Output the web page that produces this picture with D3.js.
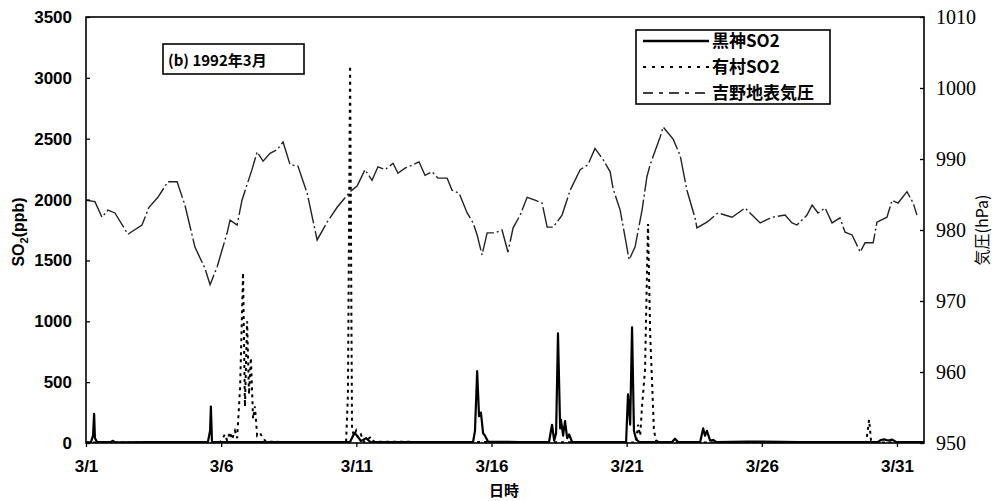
<!DOCTYPE html>
<html>
<head>
<meta charset="utf-8">
<script src="https://cdn.jsdelivr.net/npm/d3@7/dist/d3.min.js"></script>
<style>
  body { margin: 0; background: #fff; }
  svg { display: block; }
</style>
</head>
<body>
<div id="chart"></div>
<script>
// x values are days since 3/1 00:00 (1992)
let dayTicks = [0, 5, 10, 15, 20, 25, 30];
let dayLabels = ["3/1", "3/6", "3/11", "3/16", "3/21", "3/26", "3/31"];
let so2Ticks = [0, 500, 1000, 1500, 2000, 2500, 3000, 3500];
let hpaTicks = [950, 960, 970, 980, 990, 1000, 1010];

let seriesNames = ["黒神SO2", "有村SO2", "吉野地表気圧"];

// 黒神 SO2 (ppb)
let kurokamiDay = [0.00, 0.18, 0.26, 0.30, 0.33, 0.41, 0.92, 1.00, 1.07, 2.37, 4.51, 4.59, 4.62, 4.66, 4.81,
  7.92, 9.77, 9.88, 9.95, 10.06, 10.17, 10.36, 10.51, 12.36, 14.32, 14.39, 14.47, 14.54, 14.61, 14.69, 14.76, 14.87,
  16.06, 17.13, 17.24, 17.32, 17.39, 17.46, 17.54, 17.57, 17.65, 17.72, 17.80, 17.87, 17.98, 19.02,
  19.98, 20.05, 20.13, 20.20, 20.27, 20.35, 20.46, 21.68, 21.79, 21.90, 22.72, 22.83, 22.90, 22.97, 23.09, 23.20, 23.31,
  24.45, 26.42, 29.30, 29.41, 29.52, 29.67, 29.82, 29.97, 31.00];
let kurokamiPpb = [5, 5, 60, 240, 40, 8, 8, 18, 6, 8, 8, 100, 300, 10, 8,
  8, 10, 60, 80, 50, 15, 40, 10, 8, 10, 100, 590, 220, 250, 80, 60, 12,
  8, 10, 150, 20, 80, 900, 120, 190, 60, 180, 40, 70, 10, 8,
  10, 400, 150, 950, 100, 30, 10, 8, 35, 8, 8, 120, 60, 100, 20, 25, 8,
  12, 8, 8, 25, 30, 20, 28, 8, 8];

// 有村 SO2 (ppb)
let arimuraDay = [0.00, 4.96, 5.14, 5.22, 5.33, 5.40, 5.51, 5.59, 5.70, 5.81, 5.88, 5.96, 6.03, 6.10, 6.18, 6.25,
  6.33, 6.44, 6.55, 6.66, 9.62, 9.69, 9.77, 9.84, 9.91, 9.99, 10.06, 10.17, 10.28, 10.54, 10.66,
  20.35, 20.42, 20.50, 20.57, 20.68, 20.79, 20.87, 20.94, 21.01, 21.09, 21.24, 28.86, 28.97, 29.04, 29.19, 31.00];
let arimuraPpb = [5, 5, 70, 20, 90, 30, 100, 40, 450, 1400, 300, 1000, 400, 700, 200, 300,
  60, 80, 40, 10, 5, 400, 3100, 120, 60, 100, 40, 70, 10, 50, 10,
  5, 150, 60, 300, 600, 1800, 900, 500, 100, 20, 5, 5, 190, 20, 5, 5];

// 吉野 surface pressure (hPa)
let yoshinoDay = [0.00, 0.33, 0.59, 0.81, 1.07, 1.55, 2.07, 2.33, 2.66, 3.03, 3.37, 3.66, 4.03, 4.40, 4.59, 4.85,
  5.22, 5.33, 5.59, 5.77, 6.14, 6.33, 6.55, 6.81, 7.07, 7.29, 7.55, 7.84, 8.18, 8.55, 8.92, 9.29, 9.77,
  10.03, 10.32, 10.58, 10.80, 11.06, 11.36, 11.54, 11.80, 12.10, 12.32, 12.54, 12.80, 13.02, 13.36, 13.54,
  13.80, 14.10, 14.32, 14.47, 14.65, 14.84, 15.13, 15.39, 15.61, 15.80, 16.06, 16.32, 16.61, 16.87, 17.06,
  17.28, 17.61, 17.91, 18.28, 18.57, 18.83, 19.13, 19.39, 19.50, 19.76, 19.98, 20.09, 20.31, 20.57, 20.75,
  20.87, 21.24, 21.35, 21.72, 21.98, 22.23, 22.53, 22.60, 22.97, 23.38, 23.90, 24.38, 24.64, 24.94, 25.38,
  25.86, 26.12, 26.30, 26.67, 26.86, 27.08, 27.34, 27.60, 27.89, 28.08, 28.34, 28.64, 28.82, 29.12, 29.26,
  29.63, 29.82, 30.04, 30.37, 30.60, 30.74];
let yoshinoHpa = [984.2, 984.0, 981.8, 982.8, 982.4, 979.4, 980.7, 983.2, 984.6, 986.8, 986.8, 983.5, 977.6, 974.6, 972.3, 974.8,
  979.6, 981.4, 980.7, 984.2, 988.5, 991.0, 989.7, 990.8, 991.3, 992.4, 989.2, 989.0, 985.2, 978.6, 981.1, 983.2, 985.4,
  986.2, 988.5, 987.0, 988.9, 988.5, 989.4, 988.0, 988.7, 989.2, 989.6, 987.7, 988.2, 987.3, 987.3, 985.6,
  985.2, 982.4, 981.0, 979.3, 976.5, 979.6, 979.6, 980.0, 976.9, 980.3, 982.1, 984.6, 984.2, 983.8, 980.4,
  980.4, 982.1, 985.6, 988.5, 989.2, 991.5, 989.9, 988.2, 985.8, 982.8, 978.2, 975.8, 977.6, 982.8, 987.5,
  989.2, 993.1, 994.5, 992.8, 990.5, 985.6, 981.7, 980.3, 981.1, 982.4, 981.8, 983.1, 982.1, 981.0, 981.8,
  982.1, 981.0, 980.7, 982.1, 983.5, 982.4, 983.1, 981.0, 981.7, 979.7, 979.3, 976.9, 978.2, 978.2, 981.1,
  981.8, 984.2, 983.8, 985.4, 983.8, 982.1];

// svg attributes
let svgWidth = 995;
let svgHeight = 501;
let plotLeft = 86, plotRight = 924, plotTop = 17, plotBottom = 443;

let jpFont = "'Noto Sans CJK JP', 'Liberation Sans', sans-serif";
let numFont = "'Liberation Sans', Arial, sans-serif";

let svg = d3.select("#chart")
  .append("svg")
  .attr("width", svgWidth)
  .attr("height", svgHeight);

svg.append("rect")
  .attr("width", svgWidth)
  .attr("height", svgHeight)
  .attr("fill", "#fff");

// scales
let xScale = d3.scaleLinear().domain([0, 31]).range([plotLeft, plotRight]);
let yLeft = d3.scaleLinear().domain([0, 3500]).range([plotBottom, plotTop]);
let yRight = d3.scaleLinear().domain([950, 1010]).range([plotBottom, plotTop]);

svg.append("clipPath").attr("id", "plotClip")
  .append("rect")
  .attr("x", plotLeft).attr("y", plotTop - 1)
  .attr("width", plotRight - plotLeft).attr("height", plotBottom - plotTop + 1);

let plot = svg.append("g").attr("clip-path", "url(#plotClip)");

let zip = (xs, ys) => xs.map((d, i) => [d, ys[i]]);

// pressure (dash-dot)
plot.append("path")
  .datum(zip(yoshinoDay, yoshinoHpa))
  .attr("fill", "none")
  .attr("stroke", "#222")
  .attr("stroke-width", 1.4)
  .attr("stroke-dasharray", "26,3,2,3")
  .attr("d", d3.line().x(d => xScale(d[0])).y(d => yRight(d[1])));

// 有村 SO2 (dotted)
plot.append("path")
  .datum(zip(arimuraDay, arimuraPpb))
  .attr("fill", "none")
  .attr("stroke", "#000")
  .attr("stroke-width", 2)
  .attr("stroke-dasharray", "3,4")
  .attr("d", d3.line().x(d => xScale(d[0])).y(d => yLeft(d[1])));

// 黒神 SO2 (solid)
plot.append("path")
  .datum(zip(kurokamiDay, kurokamiPpb))
  .attr("fill", "none")
  .attr("stroke", "#000")
  .attr("stroke-width", 2.2)
  .attr("stroke-linejoin", "round")
  .attr("d", d3.line().x(d => xScale(d[0])).y(d => yLeft(d[1])));

// frame
svg.append("rect")
  .attr("x", plotLeft).attr("y", plotTop)
  .attr("width", plotRight - plotLeft).attr("height", plotBottom - plotTop)
  .attr("fill", "none")
  .attr("stroke", "#000")
  .attr("stroke-width", 1.6);

// axes
let leftAxis = svg.append("g")
  .attr("transform", `translate(${plotLeft},0)`)
  .call(d3.axisLeft(yLeft).tickValues(so2Ticks).tickFormat(d3.format("d"))
    .tickSizeInner(-4).tickSizeOuter(0).tickPadding(14));

let rightAxis = svg.append("g")
  .attr("transform", `translate(${plotRight},0)`)
  .call(d3.axisRight(yRight).tickValues(hpaTicks).tickFormat(d3.format("d"))
    .tickSizeInner(-4).tickSizeOuter(0).tickPadding(12));

let bottomAxis = svg.append("g")
  .attr("transform", `translate(0,${plotBottom})`)
  .call(d3.axisBottom(xScale).tickValues(dayTicks).tickFormat((d, i) => dayLabels[i])
    .tickSizeInner(4).tickSizeOuter(0).tickPadding(13));

[leftAxis, rightAxis, bottomAxis].forEach(g => {
  g.select(".domain").remove();
  g.selectAll(".tick line").attr("stroke", "#000").attr("stroke-width", 1.3);
});

leftAxis.selectAll("text")
  .attr("font-family", numFont).attr("font-weight", "bold").attr("font-size", 17).attr("fill", "#000");
bottomAxis.selectAll("text")
  .attr("font-family", numFont).attr("font-weight", "bold").attr("font-size", 17).attr("fill", "#000");
rightAxis.selectAll("text")
  .attr("font-family", "'Liberation Serif', 'DejaVu Serif', serif").attr("font-size", 20).attr("fill", "#000");

// axis titles
let yTitle = svg.append("text")
  .attr("transform", "translate(24,232) rotate(-90)")
  .attr("text-anchor", "middle")
  .attr("font-family", numFont)
  .attr("font-weight", "bold")
  .attr("font-size", 16);
yTitle.append("tspan").text("SO");
yTitle.append("tspan").attr("font-size", 11).attr("dy", 4).text("2");
yTitle.append("tspan").attr("dy", -4).text("(ppb)");

svg.append("text")
  .attr("transform", "translate(988,230) rotate(-90)")
  .attr("text-anchor", "middle")
  .attr("font-family", jpFont)
  .attr("font-size", 16)
  .text("気圧(hPa)");

svg.append("text")
  .attr("x", 504).attr("y", 496)
  .attr("text-anchor", "middle")
  .attr("font-family", jpFont)
  .attr("font-weight", "bold")
  .attr("font-size", 15)
  .text("日時");

// panel label box
svg.append("rect")
  .attr("x", 163).attr("y", 44).attr("width", 141).attr("height", 30)
  .attr("fill", "#fff").attr("stroke", "#000").attr("stroke-width", 1.6);
svg.append("text")
  .attr("x", 168).attr("y", 66)
  .attr("font-family", jpFont)
  .attr("font-weight", "bold")
  .attr("font-size", 15)
  .text("(b) 1992年3月");

// legend
let legend = svg.append("g");
legend.append("rect")
  .attr("x", 636).attr("y", 30).attr("width", 194).attr("height", 74)
  .attr("fill", "#fff").attr("stroke", "#000").attr("stroke-width", 1.6);

let legendStyles = [
  { w: 2.5, dash: null },
  { w: 2, dash: "3,6" },
  { w: 1.6, dash: "10,6,4,6" }
];
let legendY = d3.scalePoint().domain(seriesNames).range([41, 93]);

seriesNames.forEach((name, i) => {
  let ly = legendY(name);
  legend.append("line")
    .attr("x1", 643).attr("x2", 709).attr("y1", ly).attr("y2", ly)
    .attr("stroke", "#000")
    .attr("stroke-width", legendStyles[i].w)
    .attr("stroke-dasharray", legendStyles[i].dash);
  legend.append("text")
    .attr("x", 712).attr("y", ly + 6)
    .attr("font-family", jpFont)
    .attr("font-weight", "bold")
    .attr("font-size", 17)
    .text(name);
});
</script>
</body>
</html>
